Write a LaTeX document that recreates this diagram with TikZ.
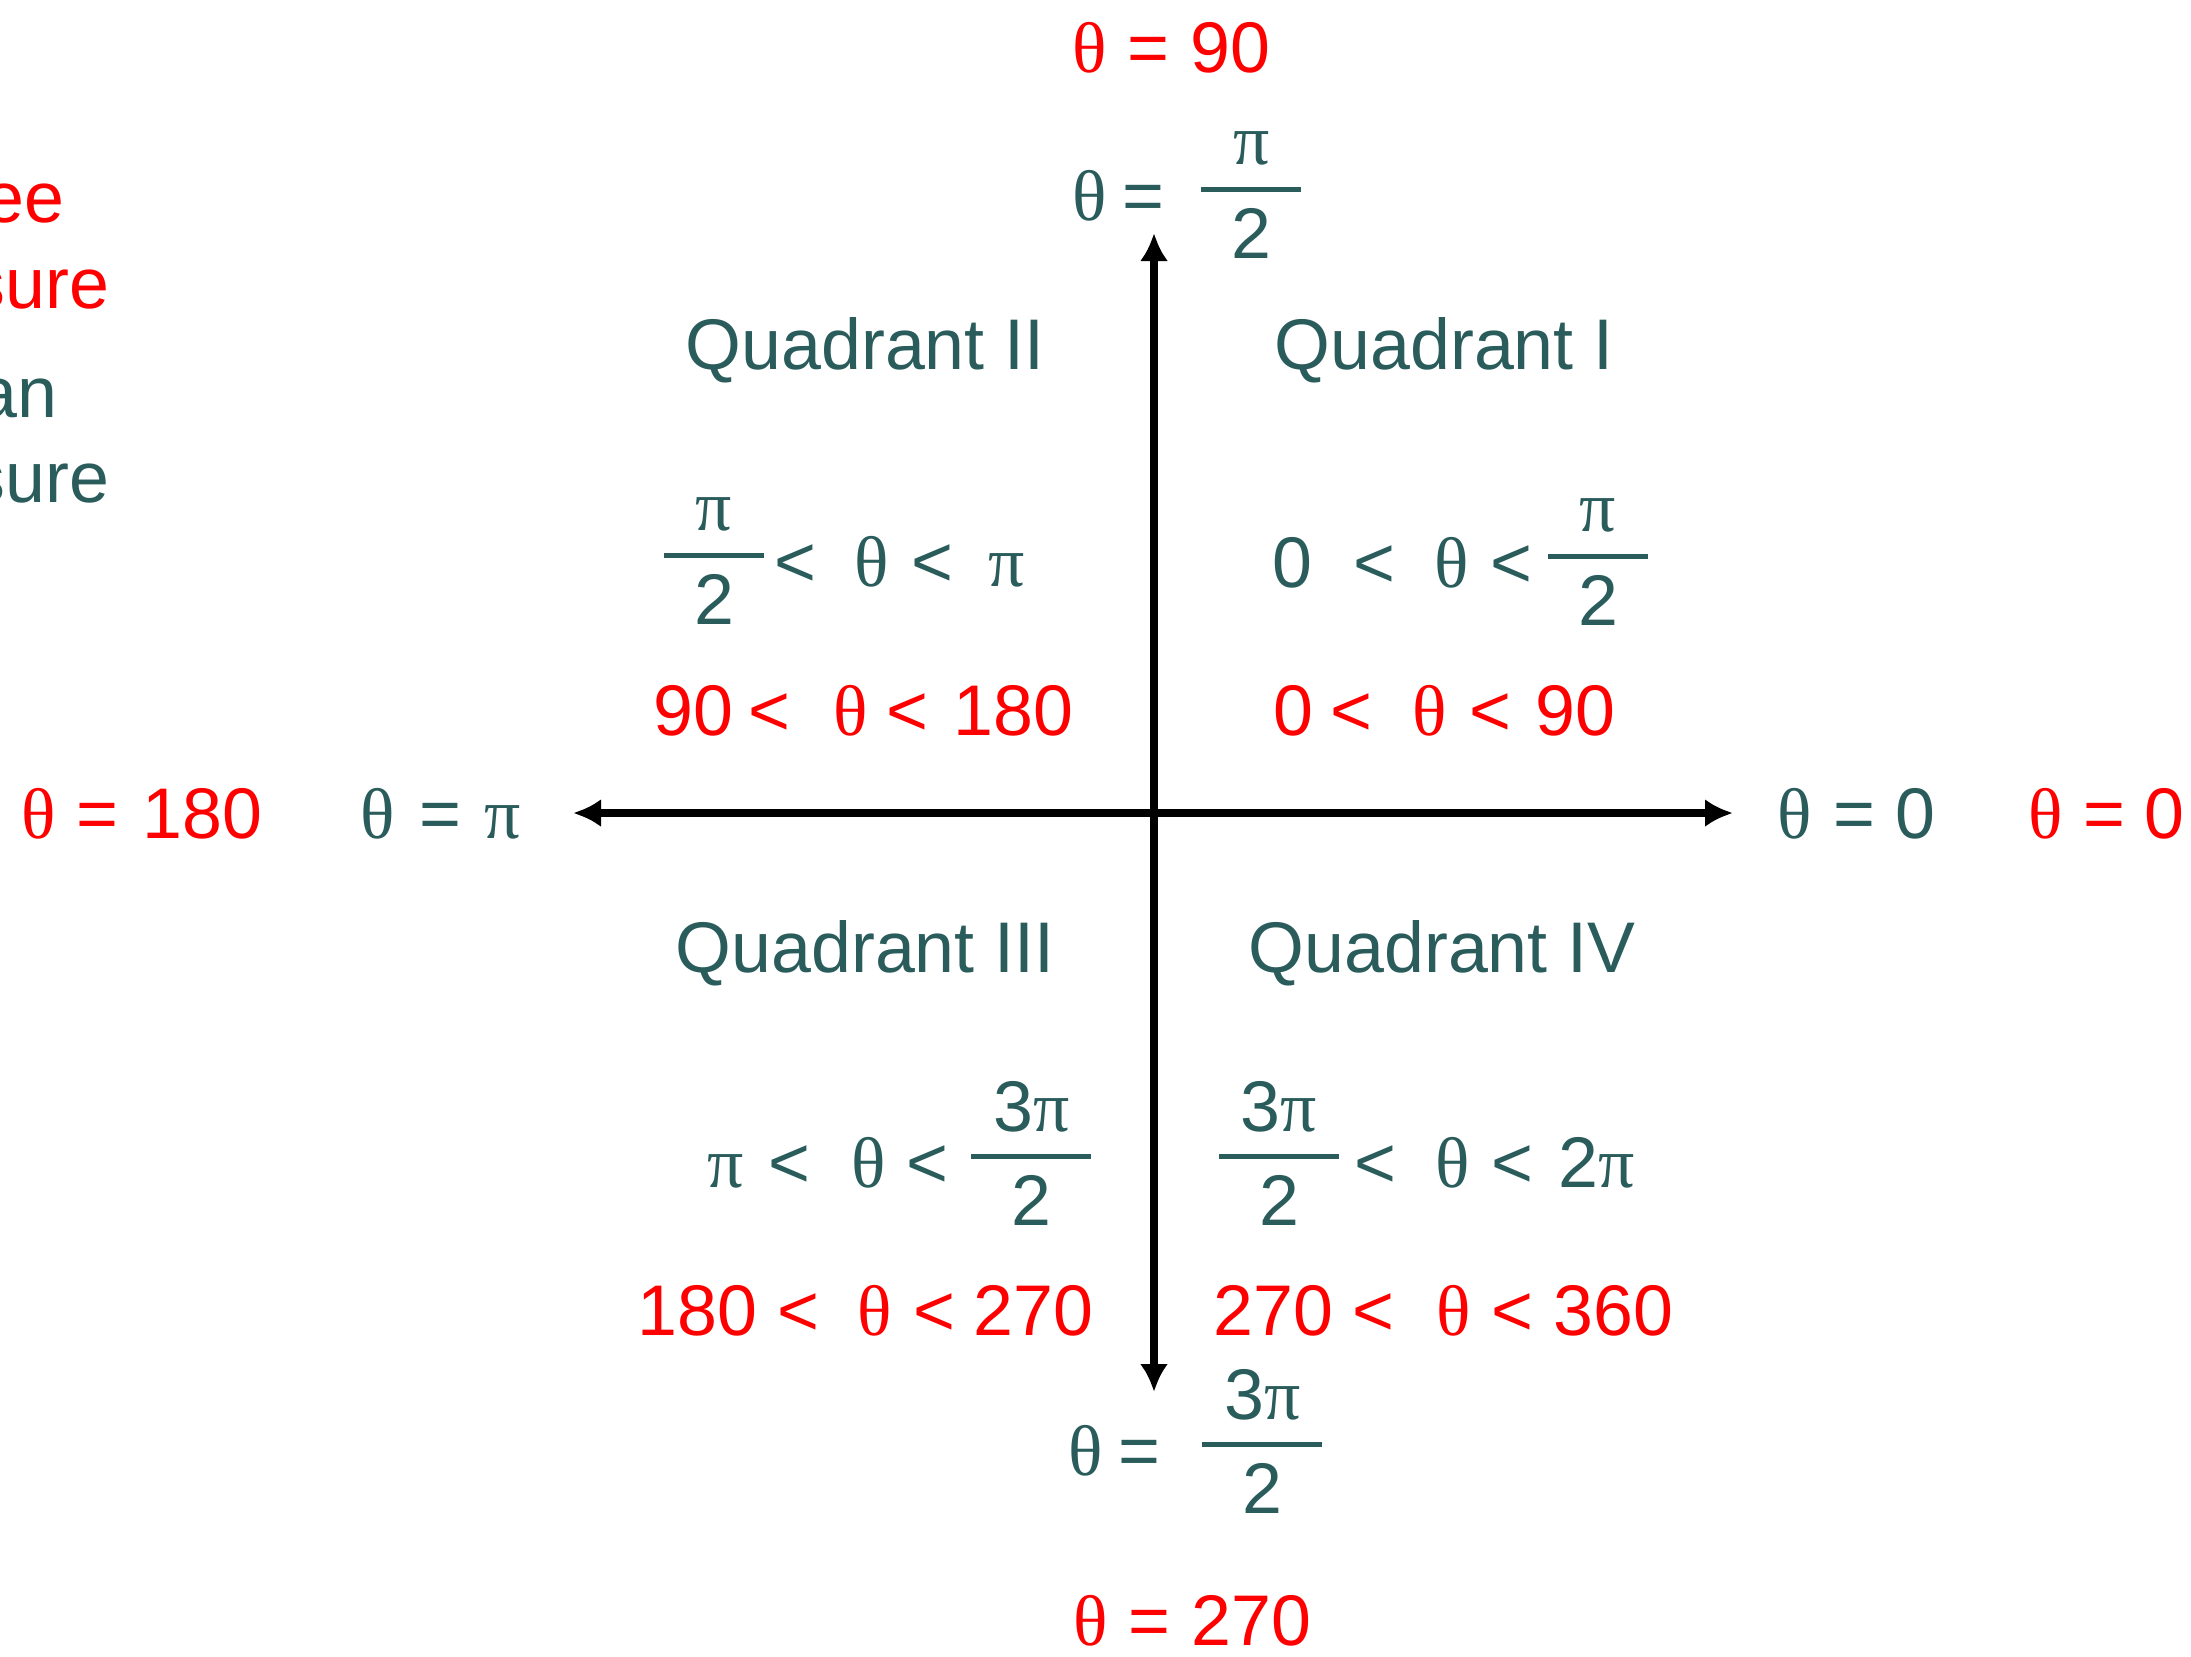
\documentclass[tikz,border=0pt]{standalone}
\usepackage{fontspec}
\usepackage{amsmath}
\setmainfont{Liberation Sans}
\newfontfamily\grkfont{Liberation Serif}
\usetikzlibrary{arrows.meta}

\definecolor{radteal}{RGB}{42,92,92}
\definecolor{degred}{RGB}{255,0,0}

\newcommand{\thet}{{\grkfont θ}}
\newcommand{\pii}{{\grkfont π}}
% fraction with a thick bar, lifted to the middle of the text
\newcommand{\fr}[3]{\raisebox{0.12cm}{$\genfrac{}{}{1.4pt}{0}{\text{\raisebox{-0.06cm}{\makebox[#1]{#2}}}}{\text{#3}}$}}

\begin{document}
\begin{tikzpicture}[x=0.01cm, y=-0.01cm, >={Latex[length=0.28cm, width=0.28cm]},
    lbl/.style={anchor=base west, inner sep=0pt, font=\fontsize{20.4}{24}\selectfont},
    rad/.style={lbl, text=radteal},
    deg/.style={lbl, text=degred},
    axis/.style={line width=2.3pt, black}]

    \useasboundingbox (0, 0) rectangle (2191, 1656);

    \coordinate (O) at (1154, 813);
    \coordinate (E) at (1733, 813);
    \coordinate (W) at (573, 813);
    \coordinate (N) at (1154, 233);
    \coordinate (S) at (1154, 1392);

    % 1. Axes
    \draw[axis, <->] (W) -- (E);
    \draw[axis, <->] (S) -- (N);

    % 2. Quadrant names
    \node[rad] (q1) at (1274, 369) {Quadrant I};
    \node[rad] (q2) at (685, 369)  {Quadrant II};
    \node[rad] (q3) at (675, 972)  {Quadrant III};
    \node[rad] (q4) at (1248, 972) {Quadrant IV};

    % 3. Ranges in radians
    \node[rad] (rq1) at (1272, 587) {0\hspace{0.41cm}<\hspace{0.39cm}\thet\hspace{0.22cm}<\hspace{0.11cm}\fr{1cm}{\pii}{2}};
    \node[rad] (rq2) at (659, 586)  {\fr{1cm}{\pii}{2}\hspace{0.06cm}<\hspace{0.38cm}\thet\hspace{0.23cm}<\hspace{0.35cm}\pii};
    \node[rad] (rq3) at (707, 1187) {\pii\hspace{0.25cm}<\hspace{0.41cm}\thet\hspace{0.2cm}<\hspace{0.19cm}\fr{1.2cm}{3\pii}{2}};
    \node[rad] (rq4) at (1214, 1187) {\fr{1.2cm}{3\pii}{2}\hspace{0.11cm}<\hspace{0.39cm}\thet\hspace{0.22cm}<\hspace{0.25cm}2\pii};

    % 4. Ranges in degrees
    \node[deg] (dq1) at (1273, 735) {0\hspace{0.17cm}<\hspace{0.4cm}\thet\hspace{0.23cm}<\hspace{0.24cm}90};
    \node[deg] (dq2) at (653, 735)  {90\hspace{0.15cm}<\hspace{0.43cm}\thet\hspace{0.19cm}<\hspace{0.25cm}180};
    \node[deg] (dq3) at (637, 1335) {180\hspace{0.2cm}<\hspace{0.38cm}\thet\hspace{0.22cm}<\hspace{0.18cm}270};
    \node[deg] (dq4) at (1213, 1335) {270\hspace{0.19cm}<\hspace{0.42cm}\thet\hspace{0.21cm}<\hspace{0.2cm}360};

    % 5. Angles on the axes
    \node[rad] (aN) at (1072, 220)  {\thet\hspace{0.15cm}=\hspace{0.33cm}\fr{1cm}{\pii}{2}};
    \node[rad] (aS) at (1068, 1475) {\thet\hspace{0.15cm}=\hspace{0.38cm}\fr{1.2cm}{3\pii}{2}};
    \node[rad] (aW) at (360, 838)   {\thet\hspace{0.24cm}=\hspace{0.24cm}\pii};
    \node[rad] (aE) at (1777, 838)  {\thet\hspace{0.21cm}=\hspace{0.21cm}0};

    \node[deg] (dN) at (1072, 72)   {\thet\hspace{0.2cm}=\hspace{0.22cm}90};
    \node[deg] (dS) at (1073, 1645) {\thet\hspace{0.2cm}=\hspace{0.22cm}270};
    \node[deg] (dW) at (21, 838)    {\thet\hspace{0.2cm}=\hspace{0.25cm}180};
    \node[deg] (dE) at (2028, 838)  {\thet\hspace{0.2cm}=\hspace{0.2cm}0};

    % 6. Cut-off words at the left edge
    \node[deg, anchor=base east] (w1) at (65, 222)  {ee};
    \node[deg, anchor=base east] (w2) at (110, 308) {sure};
    \node[rad, anchor=base east] (w3) at (58, 417)  {an};
    \node[rad, anchor=base east] (w4) at (110, 502) {sure};

\end{tikzpicture}
\end{document}
